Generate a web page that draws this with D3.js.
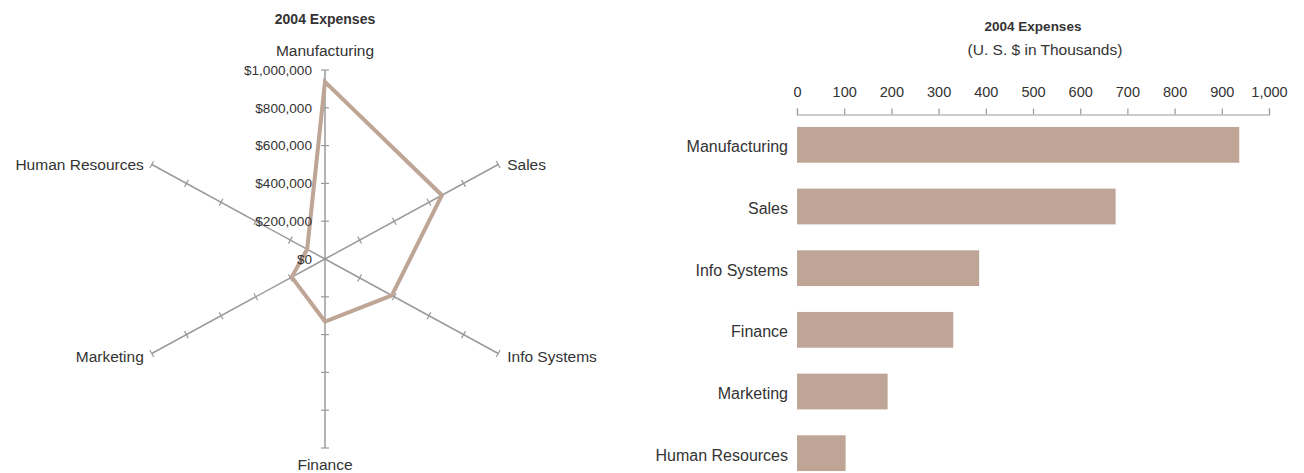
<!DOCTYPE html>
<html><head><meta charset="utf-8">
<script src="https://cdn.jsdelivr.net/npm/d3@7"></script>
<style>body{margin:0;background:#fff;} text{font-family:"Liberation Sans",Arial,sans-serif;fill:#333;}</style>
</head><body>
<svg id="c" width="1304" height="473"></svg>
<script>
const categories = ["Manufacturing","Sales","Info Systems","Finance","Marketing","Human Resources"];
const values = [937, 675, 386, 331, 192, 103]; // thousands of US $
const radarTicks = [0, 200, 400, 600, 800, 1000];
const barTicks = [0,100,200,300,400,500,600,700,800,900,1000];
const chartTitle = "2004 Expenses";
const barSubtitle = "(U. S. $ in Thousands)";

const svg = d3.select("#c");
const barColor = "#bea595";
const axisColor = "#9a9a9a";

// ---------- Radar ----------
const cx = 325, cy = 259, rx = 200, ry = 189;
const rScale = d3.scaleLinear().domain([0, 1000]).range([0, 1]);
const ang = i => i * Math.PI * 2 / categories.length;
const pt = (i, v) => [cx + Math.sin(ang(i)) * rScale(v) * rx, cy - Math.cos(ang(i)) * rScale(v) * ry];

const rg = svg.append("g");
rg.append("text").attr("x", cx).attr("y", 19).attr("dy","0.35em").attr("text-anchor","middle")
  .attr("font-size", 14).attr("font-weight","bold").attr("fill","#222").text(chartTitle);

categories.forEach((c, i) => {
  const [x1, y1] = pt(i, 1000);
  rg.append("line").attr("x1", cx).attr("y1", cy).attr("x2", x1).attr("y2", y1)
    .attr("stroke", axisColor).attr("stroke-width", 1.5);
  const dx = x1 - cx, dy = y1 - cy, L = Math.hypot(dx, dy);
  const px = -dy / L, py = dx / L;
  radarTicks.slice(1).forEach(t => {
    const [tx, ty] = pt(i, t);
    rg.append("line").attr("x1", tx - px*4).attr("y1", ty - py*4).attr("x2", tx + px*4).attr("y2", ty + py*4)
      .attr("stroke", axisColor).attr("stroke-width", 1.2);
  });
});

const poly = categories.map((c, i) => pt(i, values[i]));
rg.append("path").attr("d", d3.line()(poly) + "Z").attr("fill","none")
  .attr("stroke", barColor).attr("stroke-width", 4).attr("stroke-linejoin","miter");

const fmtD = d => "$" + d3.format(",")(d * 1000);
radarTicks.forEach(t => {
  const [x, y] = pt(0, t);
  rg.append("text").attr("x", x - 13).attr("y", y).attr("dy","0.35em").attr("text-anchor","end")
    .attr("font-size", 13.6).text(fmtD(t));
});

const labelPos = [
  {dx:0, dy:-19, anchor:"middle"},
  {dx:9, dy:0, anchor:"start"},
  {dx:9, dy:3, anchor:"start"},
  {dx:0, dy:16.5, anchor:"middle"},
  {dx:-8, dy:3, anchor:"end"},
  {dx:-8, dy:0, anchor:"end"}
];
categories.forEach((c, i) => {
  const [x, y] = pt(i, 1000);
  rg.append("text").attr("x", x + labelPos[i].dx).attr("y", y + labelPos[i].dy).attr("dy","0.35em")
    .attr("text-anchor", labelPos[i].anchor).attr("font-size", 15.5).text(c);
});

// ---------- Bar chart ----------
const x = d3.scaleLinear().domain([0, 1000]).range([797, 1269]);
const y = d3.scaleBand().domain(categories).range([114, 484]).paddingInner(0.42).paddingOuter(0.21);

const bg = svg.append("g");
bg.append("text").attr("x", 1033).attr("y", 26).attr("dy","0.35em").attr("text-anchor","middle")
  .attr("font-size", 13.5).attr("font-weight","bold").attr("fill","#222").text(chartTitle);
bg.append("text").attr("x", 1045).attr("y", 50).attr("dy","0.35em").attr("text-anchor","middle")
  .attr("font-size", 15.5).text(barSubtitle);

const ax = bg.append("g").attr("transform","translate(0,114.5)")
  .call(d3.axisTop(x).tickValues(barTicks).tickFormat(d3.format(",")).tickSize(6).tickPadding(12));
ax.selectAll("path,line").attr("stroke", axisColor).attr("stroke-width", 1.2);
ax.selectAll("text").attr("font-size", 14.5).attr("fill","#333").style("font-family","'Liberation Sans',Arial,sans-serif");

bg.selectAll("rect.bar").data(categories).join("rect").attr("class","bar")
  .attr("x", x(0)).attr("y", d => y(d)).attr("height", y.bandwidth())
  .attr("width", (d, i) => x(values[i]) - x(0)).attr("fill", barColor);

bg.selectAll("text.cat").data(categories).join("text").attr("class","cat")
  .attr("x", 788).attr("y", d => y(d) + y.bandwidth()/2 + 2).attr("dy","0.35em")
  .attr("text-anchor","end").attr("font-size", 16).text(d => d);
</script>
</body></html>
